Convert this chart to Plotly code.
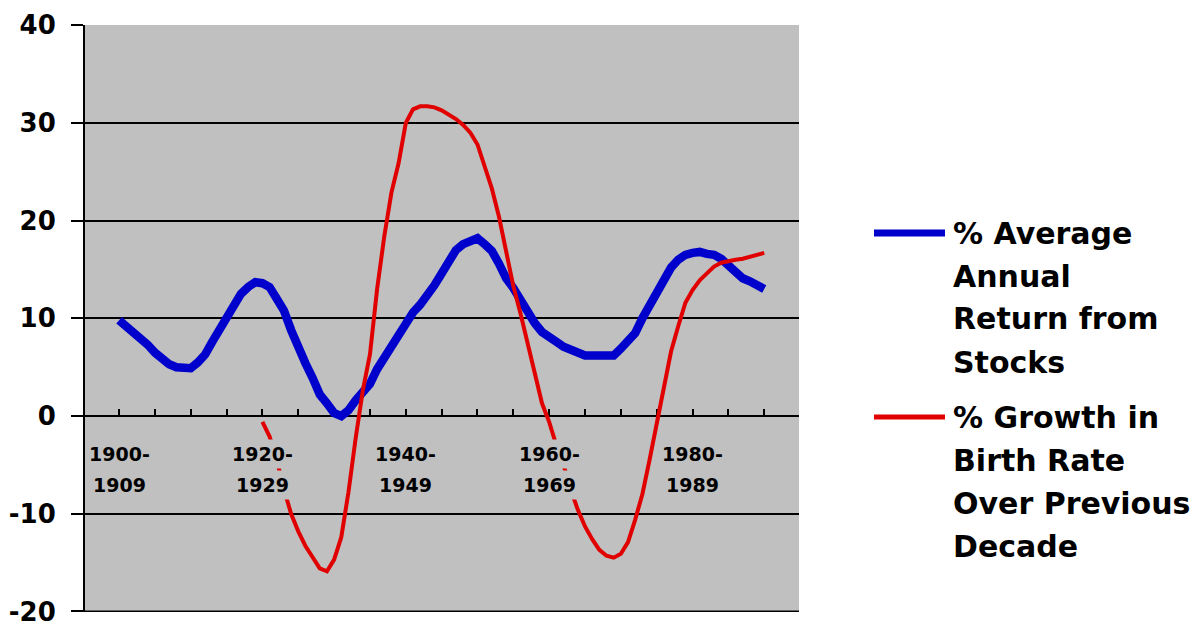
import plotly.graph_objects as go

# Rolling-decade series, one value per starting year
STOCK_YEARS = list(range(1900, 1991))
STOCK_RETURN = [
    9.8, 9.2, 8.7, 8.1, 7.3, 6.5, 5.9, 5.3, 5.0, 4.95,
    4.9, 5.5, 6.3, 7.6, 8.8, 9.9, 11.2, 12.5, 13.2, 13.7,
    13.6, 13.2, 12.0, 10.8, 8.8, 6.8, 5.4, 3.9, 2.2, 1.3,
    0.3, 0.0, 0.6, 1.6, 2.4, 3.3, 4.8, 6.0, 7.1, 8.2,
    9.4, 10.6, 11.4, 12.3, 13.4, 14.6, 15.9, 17.0, 17.6, 17.9,
    18.2, 17.6, 16.9, 15.6, 14.1, 13.1, 11.8, 10.6, 9.5, 8.6,
    8.0, 7.6, 7.1, 6.8, 6.4, 6.2, 6.2, 6.2, 6.2, 6.2,
    6.9, 7.7, 8.5, 10.0, 11.3, 12.6, 14.0, 15.2, 16.0, 16.5,
    16.7, 16.8, 16.6, 16.5, 16.1, 15.5, 14.8, 14.1, 13.8, 13.4,
    13.0,
]

BIRTH_YEARS = list(range(1920, 1991))
BIRTH_GROWTH = [
    -0.6, -2.1, -4.5, -7.5, -10.0, -11.8, -13.3, -14.5, -15.6, -15.9,
    -14.7, -12.4, -7.8, -2.3, 2.6, 6.3, 13.0, 18.4, 22.9, 25.9,
    30.0, 31.4, 31.7, 31.7, 31.6, 31.3, 30.9, 30.4, 29.8, 29.0,
    27.8, 25.6, 23.3, 20.4, 16.8, 13.3, 10.5, 7.5, 4.6, 1.3,
    -0.6, -3.0, -5.0, -7.5, -9.6, -11.3, -12.6, -13.7, -14.3, -14.5,
    -14.1, -12.9, -10.6, -8.0, -4.5, -0.8, 3.2, 6.6, 9.2, 11.6,
    12.9, 13.9, 14.6, 15.3, 15.7, 15.9, 16.0, 16.1, 16.3, 16.5,
    16.7,
]

# Value-axis ticks (plain hyphen for negatives)
Y_MIN, Y_MAX = -20, 40
Y_TICKS = [-20, -10, 0, 10, 20, 30, 40]
Y_TICK_TEXT = ["-20", "-10", "0", "10", "20", "30", "40"]

# Category labels under the zero line
LABEL_YEARS = [1900, 1920, 1940, 1960, 1980]
LABEL_TOP = ["1900-", "1920-", "1940-", "1960-", "1980-"]
LABEL_BOTTOM = ["1909", "1929", "1949", "1969", "1989"]

SERIES_NAMES = [
    ["% Average", "Annual", "Return from", "Stocks"],
    ["% Growth in", "Birth Rate", "Over Previous", "Decade"],
]

BLUE = "#0000CC"
RED = "#E00000"
GRAY = "#C0C0C0"
FONT = "DejaVu Sans"

W, H = 1193, 624
ML, MR, MT, MB = 85, 394, 25, 12
PW, PH = W - ML - MR, H - MT - MB


def px_to_paper(x, y):
    return (x - ML) / PW, (H - MB - y) / PH


fig = go.Figure()
fig.add_trace(go.Scatter(
    x=STOCK_YEARS, y=STOCK_RETURN, mode="lines",
    line=dict(color=BLUE, width=8.5), name=" ".join(SERIES_NAMES[0]),
))
fig.add_trace(go.Scatter(
    x=BIRTH_YEARS, y=BIRTH_GROWTH, mode="lines",
    line=dict(color=RED, width=4), name=" ".join(SERIES_NAMES[1]),
))

annotations = []
for yr, top, bot in zip(LABEL_YEARS, LABEL_TOP, LABEL_BOTTOM):
    for txt, yv in ((top, -3.9), (bot, -7.1)):
        annotations.append(dict(
            x=yr, y=yv, xref="x", yref="y", text=txt, showarrow=False,
            font=dict(family=FONT, size=19, color="black", weight="bold"),
            bgcolor=GRAY, borderpad=3, xanchor="center", yanchor="middle",
        ))

# Bottom gridline along the lower edge of the value range
shapes = [dict(type="line", xref="paper", yref="y", x0=0, x1=1,
               y0=Y_MIN, y1=Y_MIN, layer="below",
               line=dict(color="black", width=2))]

# Legend: sample line plus wrapped text
legend_rows = [(233, BLUE, 7), (417, RED, 5)]
for (y0, col, lw), lines in zip(legend_rows, SERIES_NAMES):
    xa, ya = px_to_paper(874, y0)
    xb, _ = px_to_paper(945, y0)
    shapes.append(dict(type="line", xref="paper", yref="paper",
                       x0=xa, x1=xb, y0=ya, y1=ya,
                       line=dict(color=col, width=lw)))
    for i, txt in enumerate(lines):
        tx, ty = px_to_paper(951, y0 + i * 43)
        annotations.append(dict(
            x=tx, y=ty, xref="paper", yref="paper", text=txt,
            showarrow=False, xanchor="left", yanchor="middle",
            font=dict(family=FONT, size=30, color="black", weight="bold"),
        ))

fig.update_layout(
    width=W, height=H,
    margin=dict(l=ML, r=MR, t=MT, b=MB, pad=0, autoexpand=False),
    paper_bgcolor="white", plot_bgcolor=GRAY,
    showlegend=False,
    annotations=annotations, shapes=shapes,
    xaxis=dict(
        range=[1895.25, 1994.85], anchor="free", position=1 / 3,
        showline=True, linecolor="black", linewidth=2,
        ticks="inside", ticklen=6, tickwidth=2, tickcolor="black",
        tick0=1900, dtick=5, showticklabels=False,
        showgrid=False, zeroline=False, layer="below traces",
        automargin=False,
    ),
    yaxis=dict(
        range=[Y_MIN - 0.06, Y_MAX + 0.03], domain=[0, 1],
        tickmode="array", tickvals=Y_TICKS, ticktext=Y_TICK_TEXT,
        showline=True, linecolor="black", linewidth=2,
        ticks="outside", ticklen=12, tickwidth=2, tickcolor="black",
        showgrid=True, gridcolor="black", gridwidth=2, zeroline=False,
        tickfont=dict(family=FONT, size=26, color="black", weight="bold"),
        ticklabelstandoff=10, ticklabeloverflow="allow",
        layer="below traces", automargin=False,
    ),
)

fig.write_html("out.html")
